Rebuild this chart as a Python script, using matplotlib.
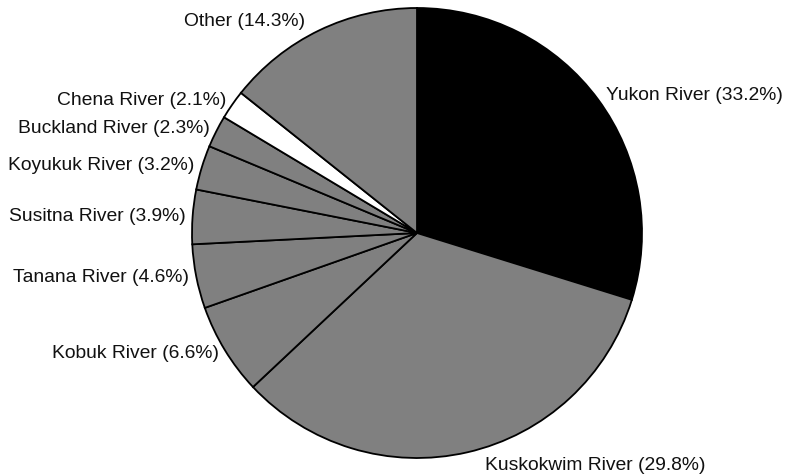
import numpy as np
import matplotlib
matplotlib.use("Agg")
import matplotlib.pyplot as plt

plt.rcParams['font.family'] = ['Liberation Sans', 'DejaVu Sans']

# Label names and the percentages printed in the labels
names = ["Yukon River", "Kuskokwim River", "Kobuk River", "Tanana River",
         "Susitna River", "Koyukuk River", "Buckland River", "Chena River", "Other"]
label_pcts = [33.2, 29.8, 6.6, 4.6, 3.9, 3.2, 2.3, 2.1, 14.3]
# Slice sizes as drawn in the picture (first two appear swapped vs. labels)
slice_values = [29.8, 33.2, 6.6, 4.6, 3.9, 3.2, 2.3, 2.1, 14.3]
colors = ["#000000", "#808080", "#808080", "#808080", "#808080",
          "#808080", "#808080", "#ffffff", "#808080"]

W, H = 793, 476
fig = plt.figure(figsize=(W / 100, H / 100), dpi=100)
ax = fig.add_axes([0, 0, 1, 1])
cx, cy, R = 417, H - 233, 225

wedges, _ = ax.pie(slice_values, colors=colors, startangle=90, counterclock=False,
                   center=(cx, cy), radius=R,
                   wedgeprops=dict(edgecolor="black", linewidth=1.3))
ax.set_xlim(0, W)
ax.set_ylim(0, H)
ax.set_aspect("equal")
ax.axis("off")

# small nudges (pixels) for labels pushed off the circle
nudge = {0: (2, 0), 1: (16, -6), 8: (-11, 2)}
for i, w in enumerate(wedges):
    mid = np.deg2rad((w.theta1 + w.theta2) / 2)
    rl = R * 1.032
    x = cx + rl * np.cos(mid)
    y = cy + rl * np.sin(mid)
    dx, dy = nudge.get(i, (0, 0))
    ha = "left" if np.cos(mid) > 0 else "right"
    ax.text(x + dx, y + dy, f"{names[i]} ({label_pcts[i]:.1f}%)", ha=ha, va="center",
            fontsize=13.85, color="#111111")

fig.savefig("out.png", dpi=100)
